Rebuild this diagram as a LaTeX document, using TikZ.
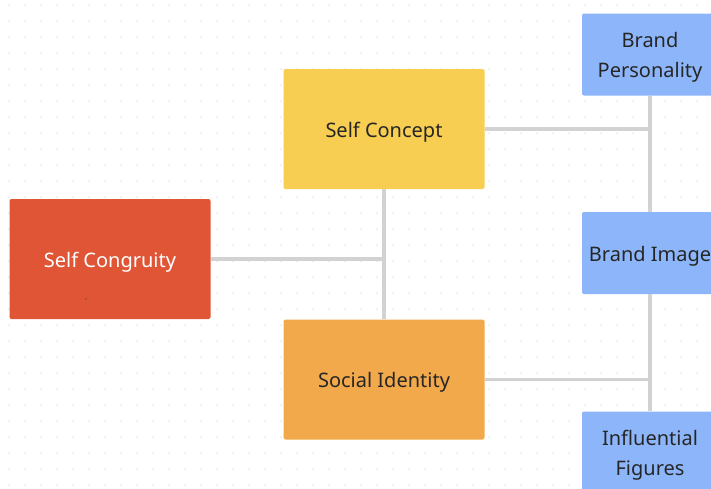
\documentclass[tikz,border=0pt]{standalone}
\usepackage{fontspec}
\setmainfont{Noto Sans}
\usepackage{tikz}
\usetikzlibrary{positioning}

\definecolor{conceptyellow}{HTML}{F7CD52}
\definecolor{congruityred}{HTML}{E05536}
\definecolor{socialorange}{HTML}{F2A94B}
\definecolor{brandblue}{HTML}{8DB6FA}
\definecolor{linkgray}{HTML}{D2D2D2}
\definecolor{dotgray}{HTML}{D6D6D6}
\definecolor{textdark}{HTML}{262626}

\tikzset{
  bigbox/.style={rectangle, rounded corners=2pt, inner sep=0pt,
    minimum width=201, minimum height=120, text=textdark,
    font=\fontsize{20}{30}\selectfont, align=center,
    text height=20, text depth=4},
  brandbox/.style={bigbox, fill=brandblue, minimum width=136, minimum height=82},
  twoline/.style={text height=46, text depth=0},
  link/.style={draw=linkgray, line width=3.5pt}
}

\begin{document}
\begin{tikzpicture}[x=1pt,y=-1pt]

  \clip (0,0) rectangle (711,488);
  \fill[white] (0,0) rectangle (711,488);

  % dotted canvas
  \foreach \gx in {9,25,...,713}
    \foreach \gy in {5,21,...,490}
      \fill[dotgray] (\gx,\gy) circle (0.75);

  \node[bigbox, fill=conceptyellow] (concept) at (384,129) {Self Concept};
  \node[bigbox, fill=congruityred, text=white] (congruity) at (110,259) {Self Congruity};
  \node[bigbox, fill=socialorange] (social) at (384,379.5) {Social Identity};

  \node[brandbox, twoline] (personality) at (650,54.5) {Brand\\Personality};
  \node[brandbox] (image) at (650,253) {Brand Image};
  \node[brandbox, twoline] (figures) at (650,452.5) {Influential\\Figures};

  \fill[black!80] (86,299) circle (0.7);

  \path[link]
    (concept.east) -- (concept.east -| personality.south)
    (personality.south) -- (image.north)
    (social.east) -- (social.east -| image.south)
    (image.south) -- (figures.north)
    (concept.south) -- (social.north)
    (congruity.east) -- (congruity.east -| concept.south);

\end{tikzpicture}
\end{document}
